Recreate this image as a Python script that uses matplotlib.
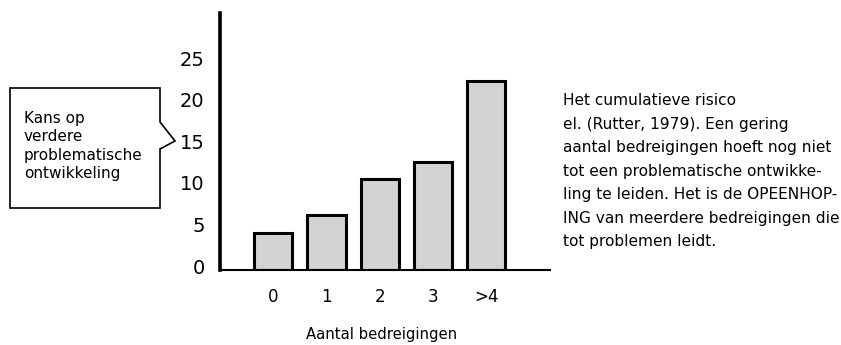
import matplotlib.pyplot as plt
from matplotlib.patches import Polygon
from matplotlib.transforms import ScaledTranslation

categories = ["0", "1", "2", "3", ">4"]
values = [4.5, 6.6, 10.9, 13.0, 22.7]
yticks = [0, 5, 10, 15, 20, 25]
callout_text = "Kans op\nverdere\nproblematische\nontwikkeling"
side_text = ("Het cumulatieve risico\n"
             "el. (Rutter, 1979). Een gering\n"
             "aantal bedreigingen hoeft nog niet\n"
             "tot een problematische ontwikke-\n"
             "ling te leiden. Het is de OPEENHOP-\n"
             "ING van meerdere bedreigingen die\n"
             "tot problemen leidt.")

W, H = 841, 345
fig = plt.figure(figsize=(W / 100, H / 100), dpi=100)

def fx(px):
    return px / W

def fy(py):
    return 1 - py / H

ax = fig.add_axes([fx(220), fy(270), fx(550) - fx(220), fy(13) - fy(270)])
ax.bar(range(len(values)), values, width=0.72, color="#d2d3d5",
       edgecolor="black", linewidth=2.2, zorder=2)
ax.set_xlim(-1.0, 5.2)
ax.set_ylim(0, 30.9)
ax.set_xticks(range(len(categories)))
ax.set_xticklabels(categories)
ax.set_yticks(yticks)
ax.tick_params(axis="y", length=0, pad=11, labelsize=14)
ax.tick_params(axis="x", length=0, pad=13, labelsize=12)
for lbl in ax.get_yticklabels():
    lbl.set_transform(lbl.get_transform() + ScaledTranslation(0, 4 / 100, fig.dpi_scale_trans))
for s in ["top", "right"]:
    ax.spines[s].set_visible(False)
ax.spines["left"].set_linewidth(2.6)
ax.spines["bottom"].set_linewidth(1.5)

fig.text(fx(382), fy(335), "Aantal bedreigingen", ha="center", va="center", fontsize=10.7)

# callout box
pts = [(10, 88), (160, 88), (160, 122), (175, 141), (160, 149), (160, 208), (10, 208)]
poly = Polygon([(fx(x), fy(y)) for x, y in pts], closed=True, transform=fig.transFigure,
               facecolor="white", edgecolor="black", linewidth=1.2)
fig.patches.append(poly)
fig.text(fx(24), fy(111), callout_text, ha="left", va="top", fontsize=11, linespacing=1.28)

fig.text(fx(563), fy(93), side_text, ha="left", va="top", fontsize=11.1, linespacing=1.71)

fig.savefig("out.png", dpi=100)
